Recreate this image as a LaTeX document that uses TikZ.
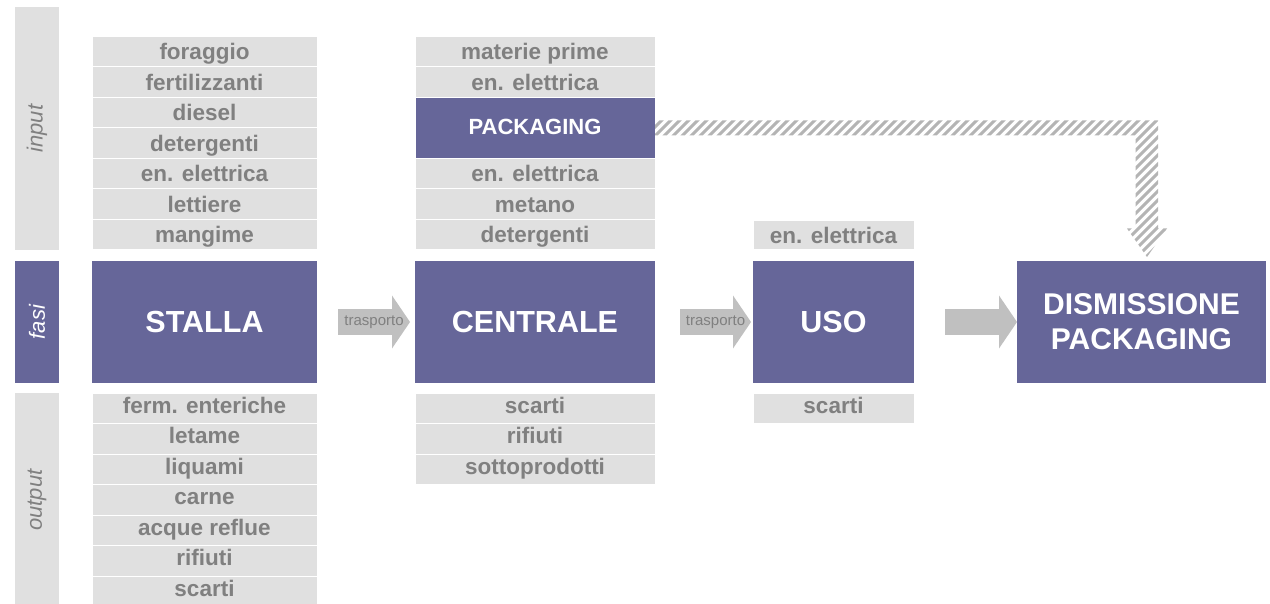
\documentclass[tikz,border=0pt]{standalone}
\usepackage{fontspec}
\usepackage{graphicx}
\setmainfont{Liberation Sans}
\usetikzlibrary{positioning, arrows.meta, calc}

\definecolor{phasecol}{RGB}{102,102,153}
\definecolor{cellcol}{RGB}{224,224,224}
\definecolor{arrowcol}{RGB}{192,192,192}
\definecolor{hatchcol}{RGB}{180,180,180}
\definecolor{textgray}{RGB}{128,128,128}

\tikzset{
  phase/.style={fill=phasecol, text=white, font=\bfseries\fontsize{30.5}{35}\selectfont,
    minimum height=122pt, inner sep=0pt, outer sep=0pt, align=center},
  cell/.style={fill=cellcol, draw=white, line width=1pt, text=textgray,
    font=\bfseries\fontsize{22.5}{22.5}\selectfont, text height=18pt, text depth=2pt,
    minimum height=30.5pt, inner sep=0pt, outer sep=0pt},
  outcell/.style={cell, text height=15pt, text depth=5pt},
  band/.style={fill=cellcol, text=textgray, font=\itshape\fontsize{22}{22}\selectfont,
    minimum width=44pt, inner sep=0pt, outer sep=0pt},
  stallacol/.style={minimum width=225pt},
  centralecol/.style={minimum width=240pt},
  usocol/.style={minimum width=161pt},
  dismcol/.style={minimum width=249pt},
  flow/.style={draw=arrowcol, line width=26pt, -{Triangle[length=18pt, width=53pt, line width=0pt]}},
  flowtext/.style={text=textgray, font=\fontsize{15}{15}\selectfont, inner sep=0pt},
  hatchline/.style={draw=hatchcol, line width=3pt}
}

\begin{document}
\begin{tikzpicture}[x=1pt, y=1pt]
  \clip (0,0) rectangle (1270,-604);
  \fill[white] (0,0) rectangle (1270,-604);

  % Phases
  \node (stalla)   [phase, stallacol] at (204.5,-322) {STALLA};
  \node (centrale) [phase, centralecol, right=98pt of stalla] {CENTRALE};
  \node (uso)      [phase, usocol, right=98pt of centrale] {USO};
  \node (dism)     [phase, dismcol, right=103pt of uso, font=\bfseries\fontsize{30}{35}\selectfont] {DISMISSIONE\\PACKAGING};

  % Side bands
  \node (fasi)   [band, fill=phasecol, text=white, minimum height=122pt, left=33pt of stalla] {\rotatebox{90}{fasi}};
  \node (input)  [band, minimum height=243pt, above=11pt of fasi] {\rotatebox{90}{input}};
  \node (output) [band, minimum height=214pt, below=10pt of fasi] {\rotatebox{90}{output}};

  % Stalla inputs
  \node (s7) [cell, stallacol, above=11pt of stalla] {mangime};
  \node (s6) [cell, stallacol, above=0pt of s7] {lettiere};
  \node (s5) [cell, stallacol, above=0pt of s6] {en. elettrica};
  \node (s4) [cell, stallacol, above=0pt of s5] {detergenti};
  \node (s3) [cell, stallacol, above=0pt of s4] {diesel};
  \node (s2) [cell, stallacol, above=0pt of s3] {fertilizzanti};
  \node (s1) [cell, stallacol, above=0pt of s2] {foraggio};

  % Stalla outputs
  \node (so1) [outcell, stallacol, below=10pt of stalla] {ferm. enteriche};
  \node (so2) [outcell, stallacol, below=0pt of so1] {letame};
  \node (so3) [outcell, stallacol, below=0pt of so2] {liquami};
  \node (so4) [outcell, stallacol, below=0pt of so3] {carne};
  \node (so5) [outcell, stallacol, below=0pt of so4] {acque reflue};
  \node (so6) [outcell, stallacol, below=0pt of so5] {rifiuti};
  \node (so7) [outcell, stallacol, below=0pt of so6] {scarti};

  % Centrale inputs
  \node (c6)   [cell, centralecol, above=11pt of centrale] {detergenti};
  \node (c5)   [cell, centralecol, above=0pt of c6] {metano};
  \node (c4)   [cell, centralecol, above=0pt of c5] {en. elettrica};
  \node (pack) [cell, centralecol, above=0pt of c4, fill=phasecol, text=white, minimum height=61pt,
                font=\bfseries\fontsize{22}{22}\selectfont, text height=17pt, text depth=3.5pt] {PACKAGING};
  \node (c2)   [cell, centralecol, above=0pt of pack] {en. elettrica};
  \node (c1)   [cell, centralecol, above=0pt of c2] {materie prime};

  % Centrale outputs
  \node (co1) [outcell, centralecol, below=10pt of centrale] {scarti};
  \node (co2) [outcell, centralecol, below=0pt of co1] {rifiuti};
  \node (co3) [outcell, centralecol, below=0pt of co2] {sottoprodotti};

  % Uso input and output
  \node (u1)  [cell, usocol, above=11pt of uso, minimum height=29pt] {en. elettrica};
  \node (uo1) [outcell, usocol, below=10pt of uso] {scarti};

  % Flow arrows between phases
  \draw [flow] ([xshift=21pt]stalla.east) -- node [flowtext] {trasporto} ([xshift=-5pt]centrale.west);
  \draw [flow] ([xshift=25pt]centrale.east) -- node [flowtext] {trasporto} ([xshift=-2pt]uso.west);
  \draw [flow] ([xshift=31pt]uso.east) -- (dism.west);

  % Packaging goes to its disposal (hatched bent arrow)
  \coordinate (bend) at (dism.north |- pack.east);
  \begin{scope}
    \clip ([yshift=7.5pt]pack.east) -- ($(bend)+(16.5,7.5)$) -- ($(bend)+(16.5,-100.5)$)
      -- ($(bend)+(25.5,-100.5)$) -- ($(bend)+(5.5,-129)$) -- ($(bend)+(-14.5,-100.5)$)
      -- ($(bend)+(-6,-100.5)$) -- ($(bend)+(-6,-7.5)$) -- ([yshift=-7.5pt]pack.east) -- cycle;
    \foreach \i in {0,...,75}
      \draw [hatchline] ($(pack.east)+({9*\i-140},-130)$) -- ++(145,145);
  \end{scope}
\end{tikzpicture}
\end{document}
